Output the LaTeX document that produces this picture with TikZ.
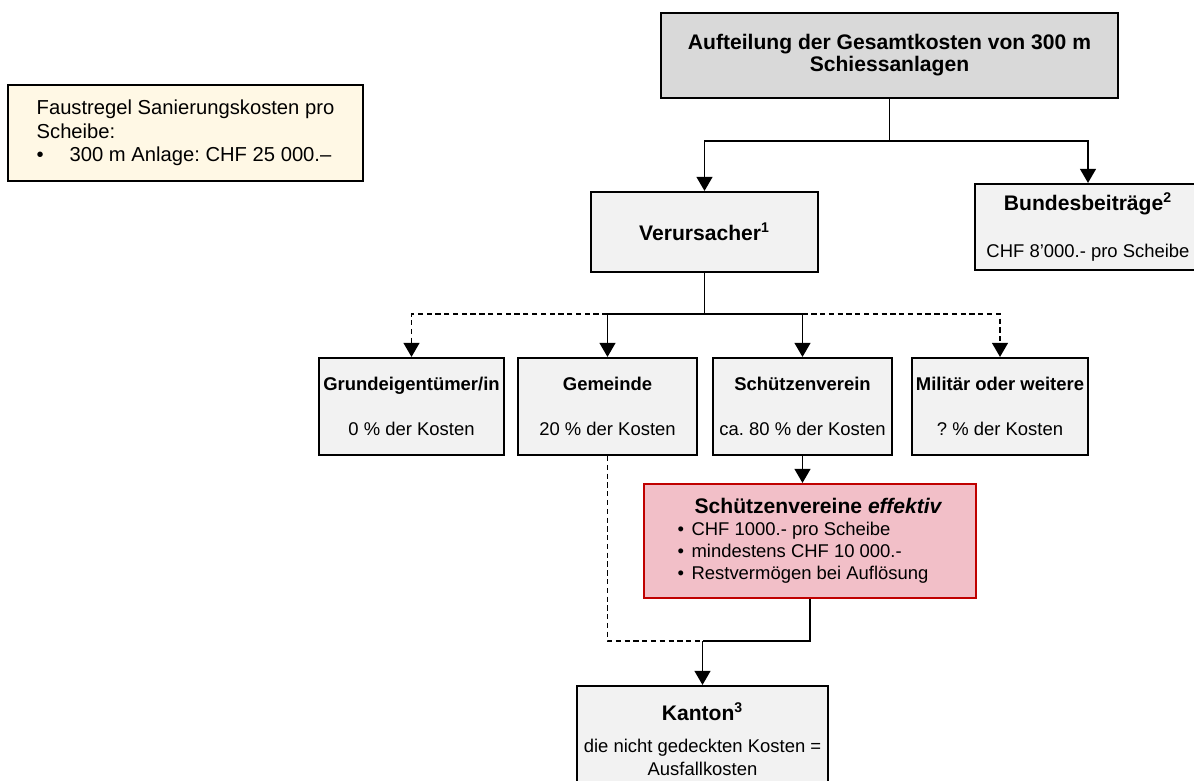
\documentclass[tikz,border=0pt]{standalone}
\usepackage{fontspec}
\setmainfont{Liberation Sans}
\usetikzlibrary{arrows.meta}
\definecolor{topgray}{HTML}{D9D9D9}
\definecolor{boxgray}{HTML}{F2F2F2}
\definecolor{notecream}{HTML}{FFF8E5}
\definecolor{clubpink}{HTML}{F2BFC8}
\definecolor{clubred}{HTML}{C00000}
\newcommand{\headfont}{\fontsize{12}{13.8}\selectfont\bfseries}
\frenchspacing
\begin{document}
\begin{tikzpicture}[
  x=0.02cm, y=-0.02cm,
  box/.style={draw, line width=1.2pt, fill=boxgray, align=center, inner sep=0pt, font=\fontsize{10.5}{12.6}\selectfont},
  arr/.style={-{Triangle[length=8pt,width=9pt]}, line width=1pt},
  link/.style={line width=1pt},
  dashlink/.style={line width=1pt, dash pattern=on 3pt off 2pt}
]
\useasboundingbox (0,0) rectangle (1194,781);

\node[box, fill=notecream, align=left, minimum width=7.1cm, minimum height=1.92cm, font=\fontsize{11.5}{13.3}\selectfont] (rule) at (185.5,133) {Faustregel Sanierungskosten pro\\Scheibe:\\\makebox[0.66cm][l]{\textbullet}300 m Anlage: CHF 25 000.–};

\node[box, fill=topgray, minimum width=9.14cm, minimum height=1.7cm] (total) at (889.5,55.5) {\headfont Aufteilung der Gesamtkosten von 300 m\\\headfont Schiessanlagen};
\node[box, minimum width=4.54cm, minimum height=1.6cm] (cause) at (704.5,232) {\headfont Verursacher\textsuperscript{1}};
\node[box, minimum width=4.52cm, minimum height=1.72cm] (federal) at (1088,227) {{\headfont Bundesbeiträge\textsuperscript{2}}\\[14pt]CHF 8’000.- pro Scheibe};

\node[box, minimum width=3.7cm, minimum height=1.94cm] (owner) at (411.5,406.5) {\textbf{Grundeigentümer/in}\\[13pt]0 \% der Kosten};
\node[box, minimum width=3.58cm, minimum height=1.94cm] (commune) at (607.5,406.5) {\textbf{Gemeinde}\\[13pt]20 \% der Kosten};
\node[box, minimum width=3.58cm, minimum height=1.94cm] (club) at (802.5,406.5) {\textbf{Schützenverein}\\[13pt]ca. 80 \% der Kosten};
\node[box, minimum width=3.52cm, minimum height=1.94cm] (army) at (1000,406.5) {\textbf{Militär oder weitere}\\[13pt]? \% der Kosten};

\node[box, fill=clubpink, draw=clubred, align=left, minimum width=6.64cm, minimum height=2.28cm] (effective) at (810,541) {\hspace{0.34cm}{\headfont Schützenvereine \textit{effektiv}}\\\makebox[0.28cm][l]{\textbullet}CHF 1000.- pro Scheibe\\\makebox[0.28cm][l]{\textbullet}mindestens CHF 10 000.-\\\makebox[0.28cm][l]{\textbullet}Restvermögen bei Auflösung};

\node[box, minimum width=5.02cm, minimum height=2.12cm] (canton) at (702.5,739) {{\headfont Kanton\textsuperscript{3}}\\[6pt]die nicht gedeckten Kosten =\\Ausfallkosten};

\coordinate (merge) at (702.5,641);

\draw[link] (total.south) -- ++(0,42) coordinate (fork);
\draw[arr] (fork) -| (cause.north);
\draw[arr] (fork) -| (federal.north);
\draw[link] (cause.south) -- ++(0,41) coordinate (split);
\draw[arr] (split) -| (commune.north);
\draw[arr] (split) -| (club.north);
\draw[arr, dashlink] (split -| commune.north) -| (owner.north);
\draw[arr, dashlink] (split -| club.north) -| (army.north);
\draw[arr] (club.south) -- (club.south |- effective.north);
\draw[dashlink] (commune.south) |- (merge);
\draw[link] (effective.south) |- (merge);
\draw[arr] (merge) -- (canton.north);
\end{tikzpicture}
\end{document}
